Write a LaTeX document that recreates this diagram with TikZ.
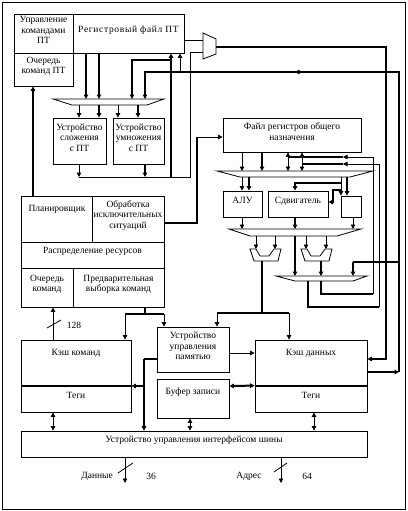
\documentclass[tikz,border=0pt]{standalone}
\usepackage{fontspec}
\setmainfont{Liberation Serif}
\usetikzlibrary{arrows.meta,fit}
\begin{document}
\begin{tikzpicture}[x=1pt,y=-1pt,
  thn/.style={line width=0.8pt},
  thk/.style={line width=2pt},
  arr/.style={-{Triangle[length=4.5pt,width=4.5pt]}},
  darr/.style={{Triangle[length=4.5pt,width=4.5pt]}-{Triangle[length=4.5pt,width=4.5pt]}},
  box/.style={draw,line width=0.8pt,inner sep=0pt,align=center,font=\fontsize{9.5}{10.5}\selectfont},
  txt/.style={inner sep=0pt,align=center,font=\fontsize{9.5}{10.5}\selectfont},
  mux/.style={draw,line width=0.8pt}
]
\useasboundingbox (0,0) rectangle (407,511);
\draw[thn] (2,2) rectangle (405,509);

% ---------- boxes ----------
\node[box,fit={(14,14)(73,53)}] (fpctl) {Управление\\командами\\ПТ};
\node[box,fit={(73,14)(184,53)}] (fpreg) {\addfontfeatures{LetterSpace=7}Регистровый файл ПТ};
\node[box,fit={(14,53)(73,86)}] (fpq) {Очередь\\команд ПТ};
\node[box,fit={(53,118)(106,164)}] (fpadd) {Устройство\\сложения\\с ПТ};
\node[box,fit={(113,118)(164,164)}] (fpmul) {Устройство\\умножения\\с ПТ};

\node[box,fit={(21,196)(92,242)}] (plan) {};
\node[txt] at (57,209) {Планировщик};
\node[box,fit={(92,196)(164,242)}] (exc) {Обработка\\исключительных\\ситуаций};
\node[box,fit={(21,242)(164,268)}] (res) {Распределение ресурсов};
\node[box,fit={(21,268)(73,307)}] (iq) {Очередь\\команд};
\node[box,fit={(73,268)(164,307)}] (pf) {Предварительная\\выборка команд};

\node[box,fit={(223,118)(361,152)}] (gpr) {Файл регистров общего\\назначения};
\node[box,fit={(223,191)(262,217)}] (alu) {АЛУ};
\node[box,fit={(268,191)(328,217)}] (shft) {Сдвигатель};
\node[box,fit={(341,196)(361,217)}] (sbox) {};

\node[box,fit={(21,340)(131,386)}] (icache) {};
\node[txt] at (76,353) {Кэш команд};
\node[box,fit={(21,386)(131,412)}] (itags) {Теги};
\node[box,fit={(157,327)(229,372)}] (mmu) {Устройство\\управления\\памятью};
\node[box,fit={(157,379)(229,418)}] (wbuf) {};
\node[txt] at (193,392) {Буфер записи};
\node[box,fit={(255,340)(367,386)}] (dcache) {};
\node[txt] at (311,353) {Кэш данных};
\node[box,fit={(255,386)(367,412)}] (dtags) {Теги};
\node[box,fit={(21,431)(367,457)}] (biu) {Устройство управления интерфейсом шины};

% ---------- muxes ----------
\draw[mux] (203,33) -- (216,39) -- (216,54) -- (203,59) -- cycle;
\draw[mux] (53,99) -- (164,99) -- (147,105) -- (72,105) -- cycle;
\draw[mux] (217,171) -- (373,171) -- (350,177) -- (240,177) -- cycle;
\draw[mux] (229,229) -- (361,229) -- (337,236) -- (250,236) -- cycle;
\draw[mux] (276,276) -- (367,276) -- (353,281) -- (295,281) -- cycle;
\draw[mux] (250,249) -- (254,261) -- (278,261) -- (281,249) -- (274,249) -- (269,256) -- (260,256) -- (256,249) -- cycle;
\draw[mux] (301,249) -- (305,261) -- (329,261) -- (332,249) -- (325,249) -- (320,256) -- (311,256) -- (307,249) -- cycle;

% ---------- FP section ----------
\draw[thn] (fpreg.east |- 0,40) -- (203,40);
\draw[thk,arr] (216,47) -- (386,47) -- (386,359) -- (dcache.east |- 0,359);
\draw[thn] (203,52) -- (190,52) -- (190,177) -- (79,177);
\draw[thn,arr] (fpadd.south -| 79,0) -- (79,177);
\draw[thk,arr] (fpmul.south -| 145,0) -- (145,177);
\draw[thk,arr] (171,177) -- (fpreg.south -| 171,0);
\draw[thk,arr] (171,60) -- (132,60) -- (132,99);
\draw[thk,arr] (fpreg.south -| 86,0) -- (86,99);
\draw[thk,arr] (fpreg.south -| 99,0) -- (99,99);
\draw[thk,arr] (dcache.east |- 0,372) -- (399,372);
\draw[thk,arr] (399,372) -- (399,72) -- (295,72);
\draw[thk,arr] (297,72) -- (145,72) -- (145,99);
\draw[thn,arr] (180,72) -- (fpreg.south -| 180,0);
\draw[thn,arr] (79,105) -- (fpadd.north -| 79,0);
\draw[thk,arr] (99,105) -- (fpadd.north -| 99,0);
\draw[thn,arr] (118,105) -- (fpmul.north -| 118,0);
\draw[thk,arr] (138,105) -- (fpmul.north -| 138,0);
\draw[thk,arr] (plan.north -| 33,0) -- (fpq.south -| 33,0);

% ---------- integer section ----------
\draw[thk] (exc.east |- 0,223) -- (197,223) -- (197,137);
\draw[thn,arr] (197,137) -- (gpr.west |- 0,137);
\draw[thn,arr] (gpr.south -| 242,0) -- (242,171);
\draw[thk,arr] (gpr.south -| 262,0) -- (262,171);
\draw[thn,darr] (gpr.south -| 288,0) -- (288,171);
\draw[thn,darr] (gpr.south -| 302,0) -- (302,171);
\draw[thk] (321,281) -- (321,294) -- (373,294);
\draw[thn,arr] (373,294) -- (373,157) -- (343,157);
\draw[thk] (343,157) -- (288,157);
\draw[thk] (308,281) -- (308,307) -- (379,307);
\draw[thn,arr] (379,307) -- (379,164) -- (343,164);
\draw[thk] (343,164) -- (302,164);

\draw[thn,arr] (242,177) -- (alu.north -| 242,0);
\draw[thk,arr] (249,177) -- (alu.north -| 249,0);
\draw[thn,arr] (341,177) -- (sbox.north -| 341,0);
\draw[thk,arr] (347,177) -- (sbox.north -| 347,0);
\draw[thk,arr] (341,183) -- (295,183) -- (shft.north -| 295,0);
\draw[thk,arr] (341,190) -- (333,190) -- (333,202) -- (shft.east |- 0,202);

\draw[thn,arr] (alu.south -| 242,0) -- (242,229);
\draw[thk,arr] (shft.south -| 295,0) -- (295,229);
\draw[thn,arr] (sbox.south -| 353,0) -- (353,229);
\draw[thn,arr] (256,236) -- (256,249);
\draw[thn,arr] (275,236) -- (275,249);
\draw[thn,arr] (306,236) -- (306,249);
\draw[thn,arr] (326,236) -- (326,249);
\draw[thk,arr] (295,236) -- (295,276);
\draw[thk,arr] (321,261) -- (321,276);
\draw[thk] (399,262) -- (353,262);
\draw[thk,arr] (353,262) -- (353,276);
\draw[thk] (262,261) -- (262,313);
\draw[thk] (217,313) -- (289,313);
\draw[thn,arr] (217,313) -- (mmu.north -| 217,0);
\draw[thn,arr] (289,313) -- (dcache.north -| 289,0);

% ---------- memory section ----------
\draw[thk] (pf.south -| 145,0) -- (145,314);
\draw[thk] (125,314) -- (164,314);
\draw[thn,arr] (125,314) -- (icache.north -| 125,0);
\draw[thn,arr] (164,314) -- (mmu.north -| 164,0);
\draw[thn,arr] (icache.north -| 53,0) -- (iq.south -| 53,0);
\draw[thn] (47,328) -- (61,320);
\node[txt] at (74,325) {128};

\draw[thk] (mmu.west |- 0,359) -- (144,359);
\draw[thk,arr] (144,359) -- (biu.north -| 144,0);
\draw[thk,arr] (144,386) -- (icache.east |- 0,386);
\draw[thk] (itags.north west) -- (itags.north east);
\draw[thn,arr] (mmu.east |- 0,353) -- (dcache.west |- 0,353);
\draw[thk,darr] (wbuf.east |- 0,386) -- (dtags.north west);
\draw[thk] (dtags.north west) -- (dtags.north east);

\draw[thn,darr] (itags.south -| 53,0) -- (biu.north -| 53,0);
\draw[thn,darr] (wbuf.south -| 190,0) -- (biu.north -| 190,0);
\draw[thn,darr] (dtags.south -| 314,0) -- (biu.north -| 314,0);

\draw[thn,arr] (biu.south -| 125,0) -- (125,483);
\draw[thn] (118,473) -- (133,463);
\node[txt,anchor=east] at (113,476) {Данные};
\node[txt] at (151,476) {36};
\draw[thn,arr] (biu.south -| 281,0) -- (281,483);
\draw[thn] (274,472) -- (287,463);
\node[txt] at (249,476) {Адрес};
\node[txt] at (307,476) {64};
\end{tikzpicture}
\end{document}
